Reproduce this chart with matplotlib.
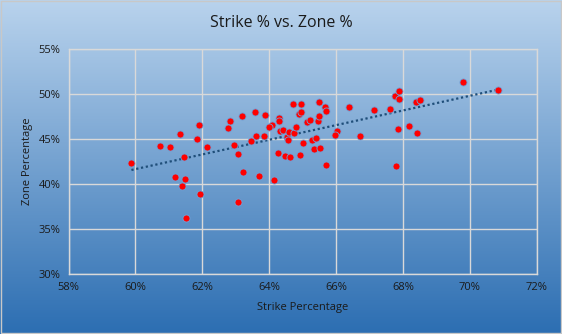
import numpy as np
import matplotlib
matplotlib.use("Agg")
import matplotlib.pyplot as plt
from matplotlib.ticker import FuncFormatter

# strike % (x) and zone % (y)
strike_pct = [59.88, 60.72, 61.04, 61.34, 61.91, 61.85, 61.46, 62.15, 61.19, 61.49,
              61.40, 61.94, 61.52, 62.84, 62.78, 63.19, 63.58, 63.88, 62.96, 63.07,
              63.22, 63.70, 63.07, 63.61, 63.46, 63.85, 64.09, 64.00, 64.15,
              64.30, 64.30, 64.33, 64.42, 64.54, 64.57, 64.60, 64.75, 64.81, 64.72,
              64.96, 64.90, 64.96, 65.13, 65.22, 65.01, 65.28, 65.40, 65.46, 65.49,
              65.49, 65.67, 65.70, 64.27, 64.48, 64.63, 64.93, 65.34, 65.52, 65.70,
              66.03, 65.97, 66.39, 66.72, 67.13, 67.61, 67.76, 67.88, 67.89, 67.85,
              67.79, 68.39, 68.51, 68.18, 68.42, 69.79, 70.84]
zone_pct = [42.33, 44.22, 44.11, 45.56, 46.56, 45.00, 43.00, 44.11, 40.78, 40.56,
            39.78, 38.89, 36.22, 47.00, 46.22, 47.56, 48.00, 47.67, 44.33, 43.33,
            41.33, 40.89, 38.00, 45.33, 44.78, 45.33, 46.56, 46.33, 40.44,
            47.33, 47.00, 45.89, 45.96, 45.22, 44.89, 45.74, 45.67, 46.33, 48.89,
            48.89, 47.78, 48.00, 46.89, 47.11, 44.56, 44.89, 45.11, 47.00, 47.56,
            49.11, 48.56, 48.11, 43.44, 43.11, 43.00, 43.22, 43.89, 44.00, 42.11,
            45.89, 45.44, 48.56, 45.33, 48.22, 48.33, 49.78, 50.33, 49.44, 46.11,
            42.00, 49.11, 49.37, 46.44, 45.67, 51.33, 50.44]

x_ticks = [58, 60, 62, 64, 66, 68, 70, 72]
y_ticks = [30, 35, 40, 45, 50, 55]

plt.rcParams['font.family'] = ['Open Sans', 'DejaVu Sans']
txt = '#1a1a1a'

fig = plt.figure(figsize=(5.62, 3.34), dpi=100)

# gradient background like the Excel chart area
bg = fig.add_axes([0, 0, 1, 1], zorder=-10)
top = np.array([185, 211, 237]) / 255
bot = np.array([44, 110, 178]) / 255
t = np.linspace(0, 1, 256)[:, None]
grad = (top[None, :] * (1 - t) + bot[None, :] * t)[:, None, :]
bg.imshow(grad, aspect='auto', extent=[0, 1, 0, 1])
bg.set_axis_off()
bg.add_patch(plt.Rectangle((0.002, 0.003), 0.996, 0.994, fill=False,
                           ec='#c8c8c8', lw=1, transform=bg.transAxes))

ax = fig.add_axes([0.122, 0.18, 0.833, 0.673])
ax.patch.set_alpha(0)

x = np.array(strike_pct)
y = np.array(zone_pct)
ax.scatter(x, y, s=26, color='#ff0000', edgecolors='#6fa0d8', linewidths=0.6, zorder=3)

# linear trendline
k, b = np.polyfit(x, y, 1)
xs = np.array([x.min(), x.max()])
ax.plot(xs, k * xs + b, color='#1f4e79', lw=1.6, ls=(0, (1, 1.2)), zorder=2)

ax.set_xlim(58, 72)
ax.set_ylim(30, 55)
ax.set_xticks(x_ticks)
ax.set_yticks(y_ticks)
pct = FuncFormatter(lambda v, p: f"{v:.0f}%")
ax.xaxis.set_major_formatter(pct)
ax.yaxis.set_major_formatter(pct)
ax.grid(True, color='#d9d9d9', lw=1)
ax.set_axisbelow(True)
ax.tick_params(length=0, labelsize=8, colors=txt, pad=6)
for s in ax.spines.values():
    s.set_color('#d9d9d9')
    s.set_linewidth(1)

ax.set_xlabel("Strike Percentage", fontsize=8, color=txt, labelpad=6)
ax.set_ylabel("Zone Percentage", fontsize=8, color=txt, labelpad=4)
fig.suptitle("Strike % vs. Zone %", fontsize=11.5, color=txt, y=0.955)

fig.savefig("out.png", dpi=100)
